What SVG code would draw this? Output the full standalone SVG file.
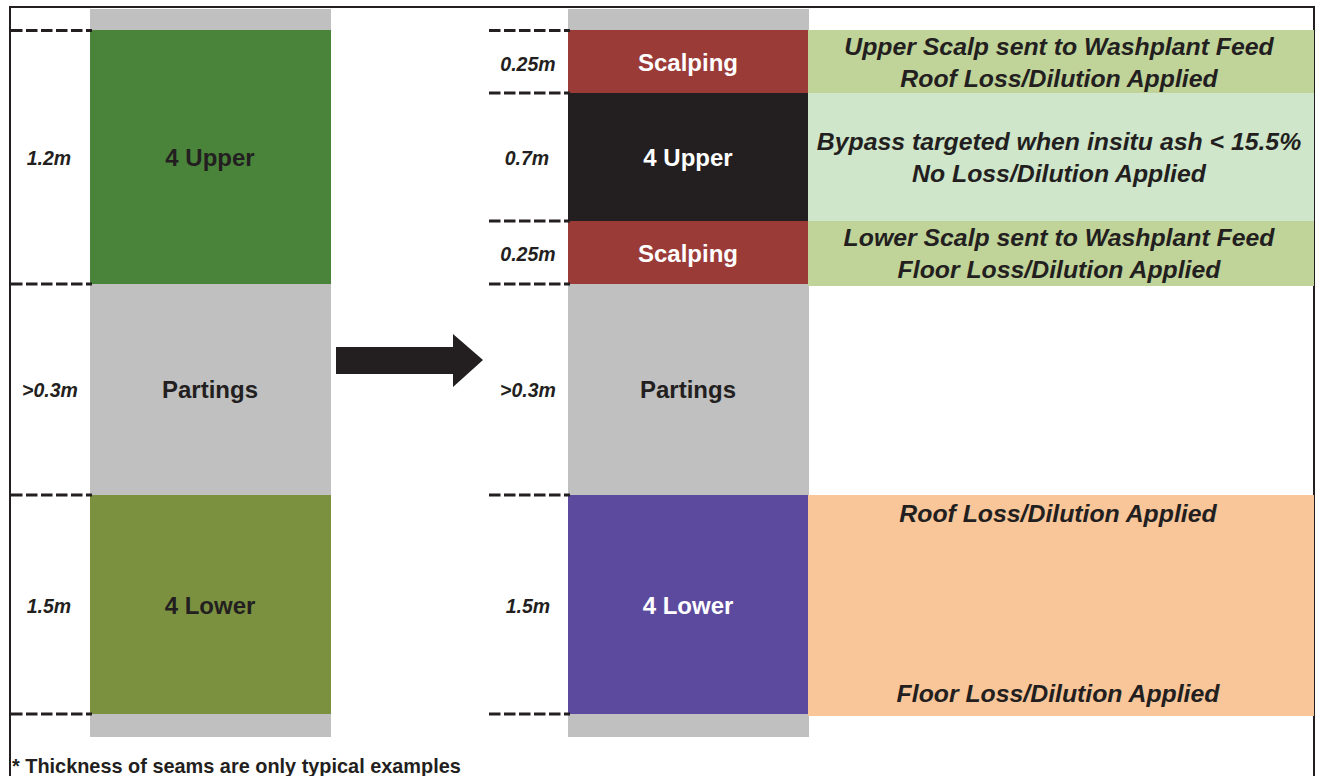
<svg xmlns="http://www.w3.org/2000/svg" width="1319" height="776" viewBox="0 0 1319 776">
<style>
.dash{stroke:#231f20;stroke-width:3;stroke-dasharray:11.5 3.5;fill:none}
.t{font-family:"Liberation Sans",Arial,sans-serif;font-weight:bold;font-size:24px;text-anchor:middle;fill:#231f20}
.w{fill:#ffffff}
.lbl{font-family:"Liberation Sans",Arial,sans-serif;font-weight:bold;font-style:italic;font-size:19.5px;text-anchor:middle;fill:#231f20}
.bx{font-family:"Liberation Sans",Arial,sans-serif;font-weight:bold;font-style:italic;font-size:24.8px;text-anchor:middle;fill:#231f20}
</style>
<rect x="0" y="0" width="1319" height="776" fill="#ffffff"/>
<path d="M10,800 V7 H1314 V800" fill="none" stroke="#231f20" stroke-width="2"/>

<g id="left-column">
<rect x="90" y="9" width="241" height="21" fill="#c0c0c0"/>
<rect x="90" y="714" width="241" height="23" fill="#c0c0c0"/>
</g>
<g id="left-4upper">
<rect x="90" y="30" width="241" height="254" fill="#4a843a"/>
<text class="t" x="210" y="166">4 Upper</text>
<text class="lbl" x="49" y="165">1.2m</text>
</g>
<g id="left-partings">
<rect x="90" y="284" width="241" height="211" fill="#c0c0c0"/>
<text class="t" x="210" y="398">Partings</text>
<text class="lbl" x="50" y="397">&gt;0.3m</text>
</g>
<g id="left-4lower">
<rect x="90" y="495" width="241" height="219" fill="#7b9140"/>
<text class="t" x="210" y="614">4 Lower</text>
<text class="lbl" x="49" y="613">1.5m</text>
</g>

<g id="right-column">
<rect x="568" y="9" width="241" height="21" fill="#c0c0c0"/>
<rect x="568" y="714" width="241" height="23" fill="#c0c0c0"/>
</g>
<g id="right-scalping-upper">
<rect x="568" y="30" width="240" height="63" fill="#9a3b38"/>
<text class="t w" x="688" y="71">Scalping</text>
<text class="lbl" x="528" y="71">0.25m</text>
</g>
<g id="right-4upper">
<rect x="568" y="93" width="240" height="128" fill="#231f20"/>
<text class="t w" x="688" y="166">4 Upper</text>
<text class="lbl" x="527" y="165">0.7m</text>
</g>
<g id="right-scalping-lower">
<rect x="568" y="221" width="240" height="63" fill="#9a3b38"/>
<text class="t w" x="688" y="262">Scalping</text>
<text class="lbl" x="528" y="261">0.25m</text>
</g>
<g id="right-partings">
<rect x="568" y="284" width="241" height="211" fill="#c0c0c0"/>
<text class="t" x="688" y="398">Partings</text>
<text class="lbl" x="528" y="397">&gt;0.3m</text>
</g>
<g id="right-4lower">
<rect x="568" y="495" width="240" height="219" fill="#5c4a9e"/>
<text class="t w" x="688" y="614">4 Lower</text>
<text class="lbl" x="528" y="613">1.5m</text>
</g>

<g id="note-upper-scalp">
<rect x="808" y="30" width="506" height="63" fill="#c0d399"/>
<text class="bx" x="1059" y="55">Upper Scalp sent to Washplant Feed</text>
<text class="bx" x="1059" y="87">Roof Loss/Dilution Applied</text>
</g>
<g id="note-bypass">
<rect x="808" y="93" width="506" height="128" fill="#cfe6ca"/>
<text class="bx" x="1059" y="150">Bypass targeted when insitu ash &lt; 15.5%</text>
<text class="bx" x="1059" y="182">No Loss/Dilution Applied</text>
</g>
<g id="note-lower-scalp">
<rect x="808" y="221" width="506" height="65" fill="#c0d399"/>
<text class="bx" x="1059" y="246">Lower Scalp sent to Washplant Feed</text>
<text class="bx" x="1059" y="278">Floor Loss/Dilution Applied</text>
</g>
<g id="note-4lower">
<rect x="808" y="495" width="506" height="221" fill="#f8c699"/>
<text class="bx" x="1058" y="522">Roof Loss/Dilution Applied</text>
<text class="bx" x="1058" y="702">Floor Loss/Dilution Applied</text>
</g>

<g id="connectors">
<path class="dash" d="M11,30.5 H92 M11,284 H92 M11,495 H92 M11,714 H92"/>
<path class="dash" d="M489,30.5 H570 M489,93 H570 M489,221 H570 M489,284 H570 M489,495 H570 M489,714 H570"/>
<polygon points="336,347 453,347 453,334 483,360 453,387 453,374 336,374" fill="#231f20"/>
</g>

<text x="12" y="773" font-family="Liberation Sans,Arial,sans-serif" font-weight="bold" font-size="19.9" fill="#231f20">* Thickness of seams are only typical examples</text>
</svg>
